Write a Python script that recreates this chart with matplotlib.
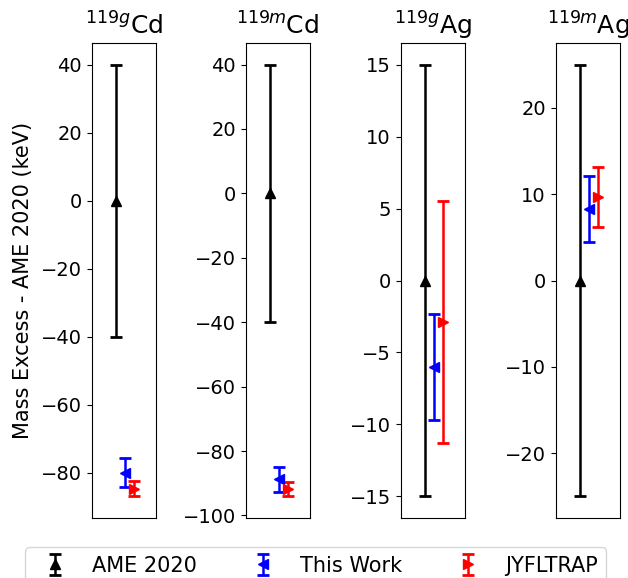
import matplotlib
matplotlib.use("Agg")
import matplotlib.pyplot as plt

titles = [r"$^{119g}$Cd", r"$^{119m}$Cd", r"$^{119g}$Ag", r"$^{119m}$Ag"]
series_names = ["AME 2020", "This Work", "JYFLTRAP"]
series_colors = ["black", "blue", "red"]
series_markers = ["^", "<", ">"]

# values (keV) relative to AME 2020, per panel
ame_val = [0.0, 0.0, 0.0, 0.0]
ame_err = [40.0, 40.0, 15.0, 25.0]
this_val = [-80.0, -88.8, -6.0, 8.3]
this_err = [4.2, 3.9, 3.7, 3.85]
jyfl_val = [-84.7, -91.9, -2.9, 9.7]
jyfl_err = [2.3, 2.2, 8.4, 3.5]

yticks = [
    [-80, -60, -40, -20, 0, 20, 40],
    [-100, -80, -60, -40, -20, 0, 20, 40],
    [-15, -10, -5, 0, 5, 10, 15],
    [-20, -10, 0, 10, 20],
]

fig = plt.figure(figsize=(6.28, 5.78), dpi=100)
lefts = [91.7, 245.7, 400.7, 555.7]
W, H = 628.0, 578.0
handles = []
for i in range(4):
    ax = fig.add_axes([lefts[i] / W, 1 - 518 / H, 64.5 / W, (518 - 43) / H])
    vals = [ame_val[i], this_val[i], jyfl_val[i]]
    errs = [ame_err[i], this_err[i], jyfl_err[i]]
    for k in range(3):
        h = ax.errorbar([k], [vals[k]], yerr=[errs[k]], fmt=series_markers[k],
                        color=series_colors[k], ecolor=series_colors[k],
                        capsize=4, capthick=2, elinewidth=1.8, markersize=6.5,
                        label=series_names[k])
        if i == 0:
            handles.append(h)
    ax.set_xlim(-2.65, 4.45)
    ax.set_xticks([])
    ax.set_yticks(yticks[i])
    ax.tick_params(axis="y", labelsize=14)
    ax.set_title(titles[i], fontsize=18)
    if i == 0:
        ax.set_ylabel("Mass Excess - AME 2020 (keV)", fontsize=15, labelpad=6)

fig.legend(handles, series_names, loc="upper center", bbox_to_anchor=(0.503, 1 - 537 / H),
           ncol=3, fontsize=15, columnspacing=2.15, handletextpad=0.8, borderpad=0.4)
fig.savefig("out.png", dpi=100)
